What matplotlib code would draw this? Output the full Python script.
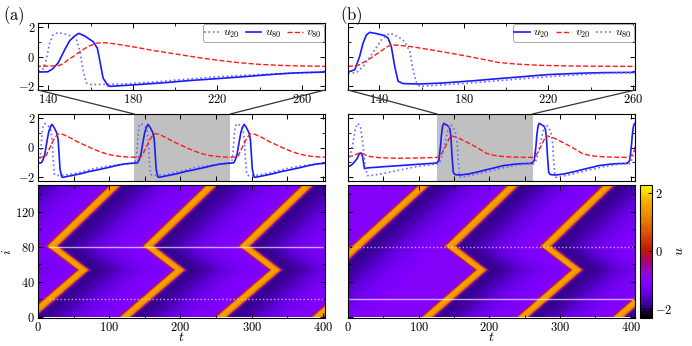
import numpy as np
import matplotlib
matplotlib.use("Agg")
import matplotlib.pyplot as plt
from matplotlib.colors import LinearSegmentedColormap, ListedColormap, Normalize
from matplotlib.cm import ScalarMappable
from matplotlib.patches import ConnectionPatch
from matplotlib.ticker import FuncFormatter, MultipleLocator, FixedLocator

plt.rcParams['mathtext.fontset'] = 'cm'
plt.rcParams['font.family'] = ['DejaVu Serif']
plt.rcParams['axes.linewidth'] = 0.8

# ---------------- data: panel (a), one period (t in [135, 270]) ----------------
PERIOD = 135.0
a_u20_t = [135.1, 137.5, 139.0, 140.6, 142.2, 144.6, 147.7, 150.9, 153.3, 154.8, 156.4, 158.0, 160.4,
           174.6, 190, 206, 219, 235, 250, 260, 270]
a_u20_v = [-1.05, -0.85, -0.23, 0.91, 1.48, 1.64, 1.55, 1.41, 1.14, 0.45, -0.91, -1.82, -1.93,
           -1.89, -1.75, -1.55, -1.40, -1.27, -1.18, -1.13, -1.08]
a_u80_t = [135.1, 139.8, 142.0, 144.6, 147.7, 150.1, 152.5, 154.4, 157.2, 161.2, 163.2, 164.3, 165.9,
           168.3, 169.5, 180, 195, 206, 220, 235, 245, 255, 262, 270]
a_u80_v = [-1.07, -1.05, -0.85, -0.45, 0.45, 1.09, 1.41, 1.59, 1.41, 1.02, 0.57, -0.23, -1.48,
           -2.02, -2.05, -1.95, -1.80, -1.66, -1.52, -1.36, -1.24, -1.14, -1.10, -1.07]
a_v80_t = [135.1, 144.6, 147.0, 149.3, 152.0, 154.0, 156.5, 158.8, 162.7, 165.3, 168.0, 174.6, 182,
           190, 200, 210, 220, 230, 240, 250, 260, 270]
a_v80_v = [-0.68, -0.64, -0.50, -0.23, 0.02, 0.23, 0.48, 0.68, 0.91, 0.95, 0.93, 0.80, 0.62,
           0.40, 0.18, -0.05, -0.25, -0.42, -0.54, -0.61, -0.65, -0.67]

# ---------------- data: panel (b), transient (t in [0, 125]) ----------------
b0_u20_t = [0, 5, 9, 13, 16.1, 18.5, 20.8, 23.2, 28, 50, 80, 100, 125]
b0_u20_v = [-1.34, -1.20, -1.00, -0.75, -0.42, -0.37, -0.65, -1.45, -1.40, -1.32, -1.22, -1.15, -1.07]
b0_u80_t = [0, 3, 7, 10.4, 14, 17.7, 21, 24.4, 27.3, 30, 50, 70.9, 90, 110, 125]
b0_u80_v = [-0.95, -0.50, 0.28, 1.30, 1.66, 1.40, 0.28, -1.34, -1.92, -1.95, -1.78, -1.57, -1.38, -1.22, -1.14]
b0_v20_t = [0, 8, 14, 17.5, 22, 27.9, 45, 70.9, 100, 125]
b0_v20_v = [-0.65, -0.55, -0.42, -0.37, -0.45, -0.60, -0.70, -0.74, -0.72, -0.68]

# ---------------- data: panel (b), one period (t in [125.2, 260]) ----------------
b_u20_t = [125.2, 128.4, 130.7, 132.3, 133.9, 135.5, 139.4, 142.6, 144.2, 145.7, 147.3, 148.9, 151.3,
           158.4, 170, 185, 196.3, 210, 220, 235, 245, 260]
b_u20_v = [-1.07, -0.91, 0.0, 0.91, 1.48, 1.66, 1.55, 1.43, 1.25, 0.68, -0.68, -1.70, -1.86,
           -1.89, -1.82, -1.66, -1.52, -1.36, -1.24, -1.15, -1.11, -1.09]
b_u80_t = [125.2, 128.4, 130.0, 132.5, 134.7, 137.8, 141.0, 143.4, 145.4, 148.9, 152.1, 154.4, 156.0,
           157.6, 159.2, 170, 185, 196.3, 210, 225, 240, 250, 260]
b_u80_v = [-1.14, -1.12, -1.02, -0.65, -0.23, 0.45, 1.14, 1.48, 1.59, 1.36, 1.02, 0.34, -0.91,
           -1.82, -2.05, -1.95, -1.80, -1.66, -1.50, -1.33, -1.20, -1.14, -1.12]
b_v20_t = [125.2, 130.0, 134.7, 139.4, 143.4, 145.7, 148.9, 155, 164.7, 172, 180.5, 190, 196.3,
           205, 215, 230, 245, 260]
b_v20_v = [-0.68, -0.61, -0.23, 0.23, 0.64, 0.80, 0.77, 0.68, 0.45, 0.27, 0.05, -0.22, -0.41,
           -0.52, -0.60, -0.65, -0.67, -0.68]

# ---------------- data: wave fronts (t0, i0, t1, i1) ----------------
a_fronts_cycle = [(12, 80, 102, 150), (12, 80, 56, 53), (-20, 0, 56, 53)]
a_cycles = [-1, 0, 1, 2, 3]
b_fronts_cycle = [(2, 80, 92, 150), (2, 80, 46, 53), (-30, 0, 46, 53)]
b_cycles = [1, 2, 3]
b_fronts_initial = [(0, 76, 101, 150), (-100, 0, 0, 76), (-235, 76, -136, 150)]
profile_t0 = 139.4   # front arrival (u crosses 0) in the u20 trace of panel (a)

# windows
a_zoom = (135, 270)
b_zoom = (126, 261)
a_top_xlim = (135.1, 271)
b_top_xlim = (125.2, 261)
a_full_xlim = (0, 403)
b_full_xlim = (0, 406)
top_major = [140, 180, 220, 260]
top_minor = [160, 200, 240]
N_nodes = 150

# ---------------- build series ----------------
def tile(ts, vs, shifts, tmax):
    T, V = [], []
    for s in shifts:
        for t, v in zip(ts, vs):
            if t + s <= tmax + 5:
                T.append(t + s); V.append(v)
    return np.array(T), np.array(V)

def series_a(ts, vs):
    return tile(ts, vs, [-PERIOD, 0, PERIOD], 410)

def series_b(t0, v0, ts, vs):
    T1, V1 = tile(ts, vs, [0, PERIOD, 2 * PERIOD], 410)
    return np.concatenate([t0[:-1], T1]), np.concatenate([v0[:-1], V1])

A_u20 = series_a(a_u20_t, a_u20_v)
A_u80 = series_a(a_u80_t, a_u80_v)
A_v80 = series_a(a_v80_t, a_v80_v)
B_u20 = series_b(b0_u20_t, b0_u20_v, b_u20_t, b_u20_v)
B_u80 = series_b(b0_u80_t, b0_u80_v, b_u80_t, b_u80_v)
B_v20 = series_b(b0_v20_t, b0_v20_v, b_v20_t, b_v20_v)

prof_ph = np.array(a_u20_t) - profile_t0
prof_u = np.array(a_u20_v)

def fronts(cycle, cycles, shift, extra=()):
    out = list(extra)
    for k in cycles:
        for (t0, i0, t1, i1) in cycle:
            out.append((t0 + PERIOD * k + shift, i0, t1 + PERIOD * k + shift, i1))
    return out

def field(segs, tgrid, nodes):
    U = np.empty((len(nodes), len(tgrid)))
    for r, i in enumerate(nodes):
        arr = []
        for (t0, i0, t1, i1) in segs:
            if min(i0, i1) <= i <= max(i0, i1):
                arr.append(t0 + (i - i0) * (t1 - t0) / (i1 - i0))
        arr = np.sort(np.array(arr))
        idx = np.searchsorted(arr, tgrid - prof_ph[0], side='right') - 1
        ph = np.where(idx >= 0, tgrid - arr[np.clip(idx, 0, None)], 1e4)
        U[r] = np.interp(ph, prof_ph, prof_u)
    return U

nodes = np.arange(0, N_nodes + 1)
tg = np.arange(0, 410, 0.5)
UA = field(fronts(a_fronts_cycle, a_cycles, 0), tg, nodes)
UB = field(fronts(b_fronts_cycle, b_cycles, 0, b_fronts_initial), tg, nodes)

# ---------------- colormap ----------------
cnodes = [(-2.3, '#000000'), (-2.1, '#1e0040'), (-1.9, '#3a0098'), (-1.55, '#6200dc'),
          (-1.15, '#8000ff'), (-0.8, '#9208e0'), (-0.4, '#a8007c'), (0.0, '#c01400'),
          (0.6, '#d84c00'), (1.2, '#ea8600'), (1.7, '#f4aa00'), (2.26, '#fff000')]
vmin, vmax = -2.3, 2.26
base = LinearSegmentedColormap.from_list('pal', [((v - vmin) / (vmax - vmin), c) for v, c in cnodes], N=512)
cmap_bar = ListedColormap(base(np.linspace(0, 1, 40)))

# ---------------- figure ----------------
fig = plt.figure(figsize=(6.92, 3.46), dpi=100)
W = 287 / 692
colx = [38 / 692, 348 / 692]
top_b, top_h = 1 - 90 / 346, 67 / 346
mid_b, mid_h = 1 - 181 / 346, 67 / 346
bot_b, bot_h = 1 - 318 / 346, 133 / 346

fmt = FuncFormatter(lambda v, p: f'${v:g}$')
blue = '#1a1aff'
dotblue = '#6a6aff'
red = '#ff1a1a'
FS = 9

def style(ax, ylab=True):
    ax.tick_params(direction='in', which='both', top=True, right=True, labelsize=FS, pad=2)
    ax.tick_params(which='major', length=3.5, width=0.7)
    ax.tick_params(which='minor', length=2.0, width=0.6)
    ax.xaxis.set_major_formatter(fmt)
    ax.yaxis.set_major_formatter(fmt)
    if not ylab:
        ax.tick_params(labelleft=False)

panels = [
    dict(x=colx[0], series=[(A_u20, ':', dotblue, '$u_{20}$'), (A_u80, '-', blue, '$u_{80}$'),
                            (A_v80, '--', red, '$v_{80}$')],
         topx=a_top_xlim, full=a_full_xlim, zoom=a_zoom, U=UA,
         lines=[(80, '-', 15), (20, ':', 15)], label=r'$\mathrm{(a)}$', ylab=True),
    dict(x=colx[1], series=[(B_u20, '-', blue, '$u_{20}$'), (B_v20, '--', red, '$v_{20}$'),
                            (B_u80, ':', dotblue, '$u_{80}$')],
         topx=b_top_xlim, full=b_full_xlim, zoom=b_zoom, U=UB,
         lines=[(80, ':', 0), (20, '-', 0)], label=r'$\mathrm{(b)}$', ylab=False),
]

for P in panels:
    axT = fig.add_axes([P['x'], top_b, W, top_h])
    axM = fig.add_axes([P['x'], mid_b, W, mid_h])
    axB = fig.add_axes([P['x'], bot_b, W, bot_h])
    for ax, xl in ((axT, P['topx']), (axM, P['full'])):
        for (s, ls, c, lab) in P['series']:
            lw = 1.2 if ls != '--' else 1.0
            ax.plot(s[0], s[1], ls=ls, color=c, lw=lw, label=lab)
        ax.set_xlim(*xl)
        ax.set_ylim(-2.3, 2.3)
        ax.yaxis.set_major_locator(FixedLocator([-2, 0, 2]))
        ax.yaxis.set_minor_locator(FixedLocator([-1, 1]))
        style(ax, P['ylab'])
    axT.xaxis.set_major_locator(FixedLocator(top_major))
    axT.xaxis.set_minor_locator(FixedLocator(top_minor))
    axM.xaxis.set_major_locator(MultipleLocator(50))
    axM.tick_params(labelbottom=False)
    axM.axvspan(P['zoom'][0], P['zoom'][1], color='#c0c0c0', lw=0, zorder=0)
    leg = axT.legend(loc='upper right', ncol=3, fontsize=8.5, handlelength=1.3, columnspacing=0.5,
                     handletextpad=0.3, borderpad=0.15, borderaxespad=0.1, fancybox=True,
                     framealpha=1, edgecolor='#999999')
    leg.get_frame().set_linewidth(0.6)

    axB.imshow(P['U'], origin='lower', aspect='auto', cmap=base, vmin=vmin, vmax=vmax,
               extent=[tg[0] - 0.25, tg[-1] + 0.25, -0.5, N_nodes + 0.5], interpolation='bilinear')
    axB.set_xlim(*P['full'])
    axB.set_ylim(-1.5, 150.5)
    for (iv, ls, ts) in P['lines']:
        axB.plot([ts, P['full'][1] - 3], [iv, iv], ls=ls, color='white', lw=1.0, alpha=0.65)
    axB.xaxis.set_major_locator(MultipleLocator(100))
    axB.xaxis.set_minor_locator(MultipleLocator(50))
    axB.yaxis.set_major_locator(MultipleLocator(40))
    axB.yaxis.set_minor_locator(MultipleLocator(20))
    style(axB, P['ylab'])
    axB.set_xlabel('$t$', fontsize=10, labelpad=-2.5)
    if P['ylab']:
        axB.set_ylabel('$i$', fontsize=10, labelpad=1)

    for xa, xb in ((0, P['zoom'][0]), (1, P['zoom'][1])):
        con = ConnectionPatch(xyA=(xa, 0), coordsA=axT.transAxes, xyB=(xb, 1),
                              coordsB=axM.get_xaxis_transform(), color='#333333', lw=0.9)
        fig.add_artist(con)
    fig.text(P['x'] - 0.05 if P['ylab'] else P['x'] - 0.012, 0.955, P['label'], fontsize=12,
             va='center')

cax = fig.add_axes([640 / 692, bot_b, 12 / 692, bot_h])
cb = fig.colorbar(ScalarMappable(norm=Normalize(vmin, vmax), cmap=cmap_bar), cax=cax)
cb.set_ticks([-2, 0, 2])
cb.ax.yaxis.set_major_formatter(fmt)
cb.ax.tick_params(direction='in', labelsize=FS, length=3, width=0.7, pad=2)
cb.outline.set_linewidth(0.8)
cb.set_label('$u$', fontsize=10, rotation=90, labelpad=0)

fig.savefig('out.png', dpi=100)
